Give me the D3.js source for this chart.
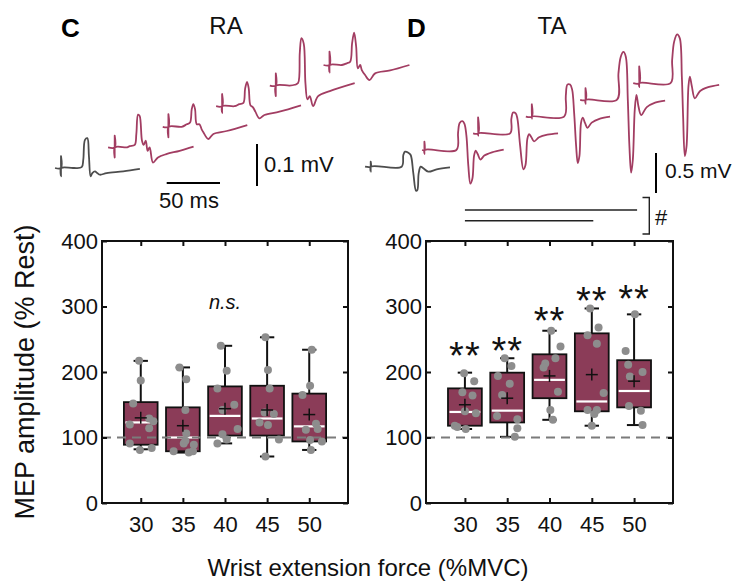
<!DOCTYPE html>
<meta charset="utf-8">
<style>
body { margin: 0; background: #fff; }
svg { display: block; font-family: "Liberation Sans", Arial, Helvetica, sans-serif; }
</style>
<svg width="738" height="585"></svg>
<script src="https://d3js.org/d3.v7.min.js"></script>
<script>

// ---- data ----
var forces = [30, 35, 40, 45, 50];
var yTicks = [0, 100, 200, 300, 400];

// RA box statistics (% Rest)
var raQ3     = [154, 146, 178, 179, 167];
var raMedian = [123, 100, 133, 129, 117];
var raQ1     = [ 89,  79, 103, 103,  94];
var raMean   = [130, 118, 144, 142, 135];
var raHigh   = [217, 207, 240, 253, 234];
var raLow    = [ 82,  77,  91,  71,  81];
var raPoints = [
  [217, 187, 152, 120, 129, 125, 114, 91, 81, 84],
  [207, 189, 142, 106, 95, 91, 79, 77, 79, 89],
  [240, 202, 175, 150, 142, 113, 105, 97, 91],
  [253, 203, 175, 138, 136, 123, 119, 97, 71],
  [234, 179, 165, 121, 112, 113, 96, 94, 81]
];
// horizontal jitter of each dot (%MVC units)
var raJitter = [
  [-0.2, 0, -0.9, -1.3, 1.0, 1.5, 1.0, -1.3, -0.1, 1.3],
  [-0.4, 0.4, 0.3, 0.4, 0.3, 0.1, -1.1, 0.7, 1.2, 1.3],
  [-0.5, 0.2, -0.9, 1.1, -0.3, 1.5, -0.3, 0.2, -0.9],
  [-0.2, 0.1, 0.3, -0.3, 0.8, -0.9, 0.1, 1.4, -0.2],
  [0.3, 0.1, -0.8, 0.8, -0.4, 1.0, 0.1, 1.5, 0.2]
];

// TA box statistics (% Rest)
var taQ3     = [175, 199, 227, 259, 218];
var taMedian = [139, 141, 188, 155, 171];
var taQ1     = [118, 123, 160, 140, 146];
var taMean   = [150, 160, 194, 196, 186];
var taHigh   = [199, 221, 263, 297, 288];
var taLow    = [113, 101, 127, 118, 119];
var taPoints = [
  [198, 186, 169, 164, 140, 137, 118, 116, 113],
  [221, 209, 194, 182, 165, 133, 128, 114, 101],
  [263, 239, 221, 213, 207, 170, 142, 127],
  [297, 268, 256, 243, 168, 142, 142, 136, 118],
  [288, 232, 211, 200, 193, 148, 141, 119]
];
var taJitter = [
  [-0.1, 1.1, -0.3, 0.9, 0, 1.3, -1.2, -0.9, 0.1],
  [-0.3, 0.5, -1.1, 0.3, -0.6, -1.2, 1.2, 1.2, 0.9],
  [0.2, 1.3, 0.7, -0.5, -0.7, 1.0, 0.1, 0.4],
  [-0.2, 0.8, -0.5, 0.6, 1.4, -0.5, 0.6, 0.3, 0],
  [0.1, -1.0, -0.7, 1.0, -0.5, -0.6, 0.8, 1.0]
];
var taStarLevel = [238, 246, 292, 322, 325];

// example MEP traces: [ms from stimulus, mV]
var raRest = [[-5.6,0],[0,0],[0,0.028],[0,-0.02],[0.2,0],[11.6,0],[19.4,0.002],[20.9,0.02],[22.5,0.067],[24.7,0.071],[26.2,0.028],[27.8,-0.02],[29.4,-0.012],[31.9,-0.008],[34,-0.012],[36.6,-0.016],[42.8,-0.012],[58.4,-0.008],[74,-0.002]];
var ra30 = [[-6.2,0],[0,0],[0,0.028],[0,-0.024],[0.2,0],[11.6,0],[14,0.003],[18.8,0.006],[20.3,0.032],[21.9,0.078],[23.4,0.075],[25.6,0.016],[27.2,0.006],[29.1,0.016],[30.9,-0.008],[32.8,0],[35.9,-0.036],[40.6,-0.024],[48.4,-0.016],[60.9,-0.008],[74,0.002]];
var ra35 = [[-5.3,0],[0,0],[0,0.03],[0,-0.025],[0.2,0],[12.5,0],[17.2,0.006],[20.3,0.01],[21.9,0.042],[23.4,0.054],[25,0.042],[26.6,0.006],[29.1,0.006],[31.2,-0.006],[32.8,-0.013],[37.5,-0.029],[42.2,-0.017],[54.7,-0.01],[74,0.004]];
var ra40 = [[-5.6,0],[0,0],[0,0.029],[0,-0.016],[0.2,0],[11.6,0],[16.2,0.005],[20,0.008],[21.6,0.042],[23.4,0.058],[25,0.042],[26.6,0.002],[28.8,-0.002],[31.2,-0.013],[35,-0.029],[39.7,-0.021],[53.8,-0.013],[74,0.002]];
var ra45 = [[-5.6,0],[0,0],[0,0.029],[0,-0.025],[0.2,0],[13,0],[17.8,0.002],[20.9,0.006],[22.5,0.078],[24,0.113],[26.2,0.1],[27.8,0.006],[29.7,-0.033],[31.9,-0.025],[35,-0.049],[39.7,-0.025],[50.6,-0.013],[74,0.006]];
var ra50 = [[-5.6,0],[0,0],[0,0.032],[0,-0.018],[0.2,0],[11.6,0],[16.2,0.004],[19.4,0.008],[21.2,0.052],[23.1,0.077],[25,0.044],[26.6,-0.008],[28.8,0],[30.3,-0.012],[33.4,-0.024],[37.5,-0.036],[42.8,-0.02],[56.9,-0.013],[75,0]];

var taRest = [[-5.3,0],[0,0],[0,0.062],[0,-0.062],[0.2,0],[29,0],[30.6,0.146],[32.2,0.188],[35.3,0.175],[37.5,0.146],[40,-0.083],[42.5,-0.3],[43.8,-0.29],[45,-0.083],[46.9,0],[49.4,-0.02],[54,-0.062],[61.9,-0.033],[74.4,-0.008]];
var ta30 = [[-2.2,0],[0,0],[0,0.104],[0,-0.05],[0.2,0],[30,0],[31.6,0.22],[33.1,0.338],[35.6,0.36],[37.5,0.33],[39.4,0.18],[41.2,-0.196],[43.1,-0.42],[45,-0.36],[46.6,-0.07],[48.1,-0.008],[50,-0.05],[52.5,-0.12],[56.2,-0.07],[63.4,-0.03],[74.4,0.004]];
var ta35 = [[-4.7,0],[0,0],[0,0.2],[0,-0.03],[0.2,0],[30,0],[31.2,0.18],[32.8,0.26],[35.3,0.25],[36.9,0.18],[39.4,-0.15],[42.5,-0.45],[44.4,-0.4],[46.2,-0.07],[47.8,-0.01],[50,-0.05],[52.5,-0.1],[57.2,-0.05],[65,-0.017],[75,0]];
var ta40 = [[-5.6,0],[0,0],[0,0.154],[0,-0.025],[0.2,0],[30.3,0],[31.9,0.26],[33.4,0.4],[35.9,0.4],[37.8,0.34],[39.7,0.05],[41.6,-0.37],[43.1,-0.58],[44.7,-0.49],[46.2,-0.075],[47.8,-0.012],[50,-0.083],[52.2,-0.14],[56.2,-0.075],[64,-0.025],[73.4,0]];
var ta45 = [[-5,0],[0,0],[0,0.146],[0,-0.05],[0.2,0],[29.4,0],[30.9,0.33],[33.1,0.54],[35.6,0.6],[37.8,0.54],[39.7,0],[41.2,-0.58],[42.8,-0.91],[44.4,-0.75],[46.2,-0.125],[47.8,0.062],[49.7,-0.083],[52.2,-0.19],[57.5,-0.09],[65.3,-0.033],[74.7,-0.008]];
var ta50 = [[-5.6,0],[0,0],[0,0.21],[0,-0.05],[0.2,0],[29.4,0],[30.9,0.29],[32.8,0.52],[35.6,0.61],[38.1,0.56],[40,0.083],[41.2,-0.42],[42.8,-0.91],[44.4,-0.79],[46.2,-0.04],[47.5,0.083],[49.4,-0.04],[52.2,-0.19],[56.9,-0.1],[64.7,-0.05],[75,-0.02]];

// ---- drawing ----
var svg = d3.select("svg");
var ink = "#111",
    boxFill = "#8b3c58",
    traceRed = "#a23d62",
    traceGray = "#4d4d4d",
    dotGray = "#8d8d8d",
    font = "Liberation Sans, Arial, sans-serif";

function drawPanel(p) {
  var g = svg.append("g");
  var x = d3.scaleLinear().domain([25.4, 54.6]).range([p.left, p.right]);
  var y = d3.scaleLinear().domain([0, 400]).range([p.bottom, p.top]);
  var half = 2, cap = 0.85;

  var rows = forces.map(function(f, i) {
    return {f: f, q1: p.q1[i], med: p.med[i], q3: p.q3[i], mean: p.mean[i],
            lo: p.lo[i], hi: p.hi[i],
            pts: p.pts[i].map(function(v, j) { return {f: f, v: v, dx: p.jit[i][j]}; })};
  });

  // whiskers + caps
  var wh = g.selectAll(".whisk").data(rows).enter().append("g");
  wh.append("line").attr("x1", d => x(d.f)).attr("x2", d => x(d.f))
    .attr("y1", d => y(d.q3)).attr("y2", d => y(d.hi));
  wh.append("line").attr("x1", d => x(d.f)).attr("x2", d => x(d.f))
    .attr("y1", d => y(d.q1)).attr("y2", d => y(d.lo));
  wh.append("line").attr("x1", d => x(d.f - cap)).attr("x2", d => x(d.f + cap))
    .attr("y1", d => y(d.hi)).attr("y2", d => y(d.hi));
  wh.append("line").attr("x1", d => x(d.f - cap)).attr("x2", d => x(d.f + cap))
    .attr("y1", d => y(d.lo)).attr("y2", d => y(d.lo));
  wh.selectAll("line").attr("stroke", ink).attr("stroke-width", 2);

  // boxes
  g.selectAll(".box").data(rows).enter().append("rect")
    .attr("x", d => x(d.f - half))
    .attr("width", d => x(d.f + half) - x(d.f - half))
    .attr("y", d => y(d.q3))
    .attr("height", d => y(d.q1) - y(d.q3))
    .attr("fill", boxFill).attr("stroke", ink).attr("stroke-width", 1.8);

  // medians
  g.selectAll(".med").data(rows).enter().append("line")
    .attr("x1", d => x(d.f - half) + 1.5).attr("x2", d => x(d.f + half) - 1.5)
    .attr("y1", d => y(d.med)).attr("y2", d => y(d.med))
    .attr("stroke", "#fff").attr("stroke-width", 2.2);

  // rest reference
  g.append("line")
    .attr("x1", p.left).attr("x2", p.right)
    .attr("y1", y(100)).attr("y2", y(100))
    .attr("stroke", "#7b7b7b").attr("stroke-width", 2).attr("stroke-dasharray", "9,6");

  // individual dots
  g.selectAll(".dot").data(rows.flatMap(d => d.pts)).enter().append("circle")
    .attr("cx", d => x(d.f + d.dx)).attr("cy", d => y(d.v))
    .attr("r", 4).attr("fill", dotGray);

  // means
  var mn = g.selectAll(".mean").data(rows).enter().append("g");
  mn.append("line").attr("x1", d => x(d.f) - 6).attr("x2", d => x(d.f) + 6)
    .attr("y1", d => y(d.mean)).attr("y2", d => y(d.mean));
  mn.append("line").attr("x1", d => x(d.f)).attr("x2", d => x(d.f))
    .attr("y1", d => y(d.mean) - 6).attr("y2", d => y(d.mean) + 6);
  mn.selectAll("line").attr("stroke", ink).attr("stroke-width", 1.5);

  // frame and ticks
  g.append("rect").attr("x", p.left).attr("y", p.top)
    .attr("width", p.right - p.left).attr("height", p.bottom - p.top)
    .attr("fill", "none").attr("stroke", ink).attr("stroke-width", 2);

  var ax = [
    g.append("g").attr("transform", "translate(0," + p.bottom + ")")
      .call(d3.axisBottom(x).tickValues(forces).tickSize(-5).tickPadding(13)),
    g.append("g").attr("transform", "translate(0," + p.top + ")")
      .call(d3.axisTop(x).tickValues(forces).tickSize(-5).tickFormat("")),
    g.append("g").attr("transform", "translate(" + p.left + ",0)")
      .call(d3.axisLeft(y).tickValues(yTicks).tickSize(-5).tickPadding(4)),
    g.append("g").attr("transform", "translate(" + p.right + ",0)")
      .call(d3.axisRight(y).tickValues(yTicks).tickSize(-5).tickFormat(""))
  ];
  ax.forEach(function(a) {
    a.select(".domain").remove();
    a.selectAll("line").attr("stroke", ink).attr("stroke-width", 2);
    a.selectAll("text").attr("fill", ink).attr("font-size", 22)
      .attr("font-family", font);
  });

  p.x = x; p.y = y;
  return p;
}

var left = drawPanel({left: 102, right: 348, top: 241, bottom: 503,
  q1: raQ1, med: raMedian, q3: raQ3, mean: raMean, lo: raLow, hi: raHigh,
  pts: raPoints, jit: raJitter});
var right = drawPanel({left: 426, right: 673, top: 241, bottom: 503,
  q1: taQ1, med: taMedian, q3: taQ3, mean: taMean, lo: taLow, hi: taHigh,
  pts: taPoints, jit: taJitter});

// n.s. and significance stars
svg.append("text").attr("x", left.x(40)).attr("y", left.y(307) + 7)
  .attr("text-anchor", "middle").attr("font-size", 20).attr("font-style", "italic")
  .attr("fill", ink).text("n.s.");

svg.selectAll(".star").data(forces).enter().append("text")
  .attr("x", d => right.x(d)).attr("y", (d, i) => right.y(taStarLevel[i]) + 22)
  .attr("text-anchor", "middle").attr("font-size", 38).attr("fill", ink)
  .attr("letter-spacing", 1).text("**");

// axis titles
svg.append("text").attr("transform", "translate(34,372) rotate(-90)")
  .attr("text-anchor", "middle").attr("font-size", 27).attr("fill", ink)
  .text("MEP amplitude (% Rest)");
svg.append("text").attr("x", 368).attr("y", 576)
  .attr("text-anchor", "middle").attr("font-size", 24).attr("fill", ink)
  .text("Wrist extension force (%MVC)");

// panel letters and muscle names
svg.append("text").attr("x", 61).attr("y", 37).attr("font-size", 26)
  .attr("font-weight", "bold").attr("fill", "#000").text("C");
svg.append("text").attr("x", 226).attr("y", 34).attr("text-anchor", "middle")
  .attr("font-size", 24).attr("fill", ink).text("RA");
svg.append("text").attr("x", 407).attr("y", 37).attr("font-size", 26)
  .attr("font-weight", "bold").attr("fill", "#000").text("D");
svg.append("text").attr("x", 552).attr("y", 34).attr("text-anchor", "middle")
  .attr("font-size", 24).attr("fill", ink).text("TA");

// ---- traces ----
var tScale = d3.scaleLinear().domain([0, 50]).range([0, 53.3]);
var raAmp = d3.scaleLinear().domain([0, 0.1]).range([0, -42]);
var taAmp = d3.scaleLinear().domain([0, 0.5]).range([0, -40]);

function drawTraces(traces, x0, y0, sx, sy, amp) {
  traces.forEach(function(tr, i) {
    var ox = x0 + sx * i, oy = y0 + sy * i;
    var line = d3.line()
      .x(d => ox + tScale(d[0]))
      .y(d => oy + amp(d[1]))
      .curve(d3.curveCatmullRom.alpha(0.5));
    svg.append("path").attr("d", line(tr))
      .attr("fill", "none")
      .attr("stroke", i === 0 ? traceGray : traceRed)
      .attr("stroke-width", 1.8)
      .attr("stroke-linejoin", "round");
  });
}
drawTraces([raRest, ra30, ra35, ra40, ra45, ra50], 61, 168, 53.7, -20.6, raAmp);
drawTraces([taRest, ta30, ta35, ta40, ta45, ta50], 370.7, 166.7, 53.7, -16.7, taAmp);

// scale bars
svg.append("line").attr("x1", 166.7).attr("x2", 166.7 + tScale(50))
  .attr("y1", 183).attr("y2", 183).attr("stroke", "#000").attr("stroke-width", 2);
svg.append("text").attr("x", 189).attr("y", 208).attr("text-anchor", "middle")
  .attr("font-size", 22).attr("fill", ink).text("50 ms");

svg.append("line").attr("x1", 257).attr("x2", 257)
  .attr("y1", 186).attr("y2", 186 + raAmp(0.1)).attr("stroke", "#000").attr("stroke-width", 2);
svg.append("text").attr("x", 264).attr("y", 172)
  .attr("font-size", 22).attr("fill", ink).text("0.1 mV");

svg.append("line").attr("x1", 656).attr("x2", 656)
  .attr("y1", 193).attr("y2", 193 + taAmp(0.5)).attr("stroke", "#000").attr("stroke-width", 2);
svg.append("text").attr("x", 665).attr("y", 178)
  .attr("font-size", 21).attr("fill", ink).text("0.5 mV");

// trend comparison lines and bracket
svg.append("line").attr("x1", right.x(30)).attr("x2", right.x(50) + 3)
  .attr("y1", 210).attr("y2", 210).attr("stroke", "#222").attr("stroke-width", 1.6);
svg.append("line").attr("x1", right.x(30)).attr("x2", right.x(45) + 1.5)
  .attr("y1", 220.7).attr("y2", 220.7).attr("stroke", "#222").attr("stroke-width", 1.6);
svg.append("path").attr("d", "M642.5,197.5H649.3V234H642.5")
  .attr("fill", "none").attr("stroke", "#222").attr("stroke-width", 1.4);
svg.append("text").attr("x", 655).attr("y", 225)
  .attr("font-size", 22).attr("fill", ink).text("#");

</script>
